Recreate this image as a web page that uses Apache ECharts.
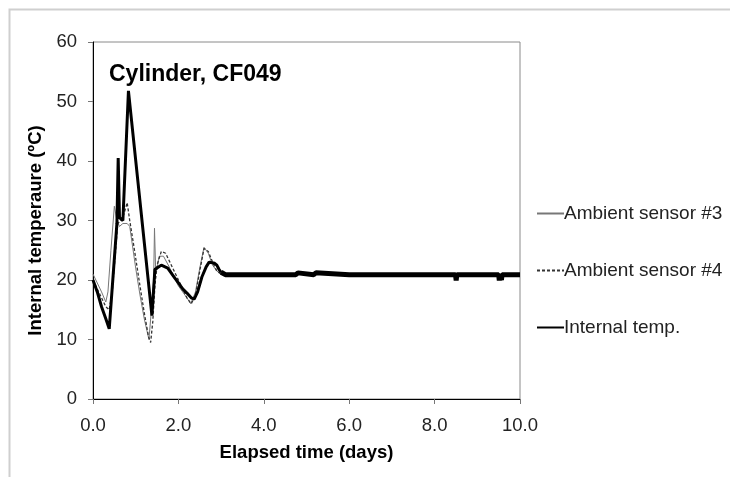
<!DOCTYPE html>
<html>
<head>
<meta charset="utf-8">
<script src="https://cdn.jsdelivr.net/npm/echarts@6/dist/echarts.min.js"></script>
<style>html,body{margin:0;padding:0;background:#fff}#c{width:730px;height:477px}</style>
</head>
<body>
<div id="c"></div>
<script>
// ---- data (days, °C) ----
var amb3Days = [0, 0.1, 0.2, 0.3, 0.35, 0.42, 0.5, 0.56, 0.62, 0.7, 0.8, 0.86, 1.0, 1.1, 1.2, 1.31, 1.38, 1.42, 1.44, 1.47, 1.5, 1.55, 1.65, 1.8, 2.0, 2.2, 2.29, 2.4, 2.5, 2.6, 2.7, 2.8, 2.9, 3.0, 3.1];
var amb3Temp = [21, 19.5, 18, 16.3, 18, 25, 32.4, 30, 29, 29.5, 29.5, 29, 22, 17.5, 13.5, 10, 16, 20, 28.7, 21, 22, 24, 24, 22, 19, 17, 16, 18, 22, 25.5, 24.5, 22.5, 21.5, 21, 21];

var amb4Days = [0, 0.1, 0.2, 0.3, 0.38, 0.45, 0.52, 0.58, 0.65, 0.72, 0.8, 0.86, 0.95, 1.1, 1.2, 1.3, 1.35, 1.4, 1.45, 1.5, 1.6, 1.7, 1.8, 2.0, 2.2, 2.3, 2.4, 2.5, 2.6, 2.7, 2.8, 2.9, 3.0, 3.1];
var amb4Temp = [20, 18.5, 17, 15.5, 15, 18, 24, 29.5, 30, 31, 33, 30, 26, 19, 14.5, 10.5, 9.5, 13, 19, 22.5, 24.8, 24.5, 23, 20, 17, 16, 17.5, 21.5, 25.3, 24.8, 23, 21.5, 21, 21];

var intDays = [0, 0.1, 0.2, 0.3, 0.38, 0.56, 0.59, 0.62, 0.7, 0.83, 1.38, 1.45, 1.5, 1.6, 1.75, 1.9, 2.0, 2.1, 2.2, 2.3, 2.37, 2.45, 2.55, 2.65, 2.72, 2.85, 2.9, 2.95, 3.0];
var intTemp = [20, 18, 15.5, 13.5, 11.8, 29.5, 40.5, 30.5, 30, 51.8, 14, 21.8, 22, 22.5, 22, 20.5, 19.5, 18.5, 17.8, 17, 16.8, 18, 20.5, 22.2, 23, 22.8, 22.5, 21.8, 21.3];

var intLateDays = [3.0, 3.1, 3.5, 4.0, 4.5, 4.75, 4.75, 4.8, 4.8, 5.17, 5.17, 5.22, 5.22, 6.0, 7.0, 8.0, 8.49, 8.505, 8.52, 9.0, 9.5, 9.515, 9.53, 9.55, 9.565, 9.58, 10.0];
var intLateTemp = [21.3, 20.9, 20.9, 20.9, 20.9, 20.9, 21.2, 21.2, 20.9, 20.9, 21.2, 21.2, 20.9, 20.9, 20.9, 20.9, 20.9, 19.9, 20.9, 20.9, 20.9, 19.9, 20.9, 20.9, 20.0, 20.9, 20.9];

var xTicks = [0, 2, 4, 6, 8, 10];
var yTicks = [0, 10, 20, 30, 40, 50, 60];
var seriesNames = ['Ambient sensor #3', 'Ambient sensor #4', 'Internal temp.'];
var chartTitle = 'Cylinder, CF049';
var xName = 'Elapsed time (days)';
var yName = 'Internal temperaure (ºC)';

function pairs(a, b) { return a.map(function (d, i) { return [d, b[i]]; }); }

var FONT = '"Liberation Sans", Arial, sans-serif';
var chart = echarts.init(document.getElementById('c'), null, { renderer: 'canvas' });
chart.setOption({
  animation: false,
  backgroundColor: '#fff',
  textStyle: { fontFamily: FONT },
  title: {
    text: chartTitle, left: 104, top: 58,
    textStyle: { fontFamily: FONT, fontSize: 23, fontWeight: 'bold', color: '#000' }
  },
  legend: {
    orient: 'vertical', left: 531, top: 199,
    itemWidth: 27, itemHeight: 14, itemGap: 38,
    data: seriesNames,
    itemStyle: { opacity: 0 },
    textStyle: { fontFamily: FONT, fontSize: 19, color: '#222', padding: [0, 0, 0, -5] }
  },
  grid: {
    left: 93, top: 42, width: 427, height: 357,
    show: true, borderColor: '#8a8a8a', borderWidth: 1, backgroundColor: 'transparent'
  },
  xAxis: {
    type: 'value', min: xTicks[0], max: xTicks[xTicks.length - 1], interval: 2,
    name: xName, nameLocation: 'middle', nameGap: 44,
    nameTextStyle: { fontFamily: FONT, fontSize: 18.5, fontWeight: 'bold', color: '#000' },
    axisLine: { lineStyle: { color: '#000', width: 1 } },
    axisTick: { show: true, length: 5, lineStyle: { color: '#777' } },
    axisLabel: { margin: 17, fontSize: 18.5, color: '#222', fontFamily: FONT,
      formatter: function (v) { return v.toFixed(1); } },
    splitLine: { show: false }
  },
  yAxis: {
    type: 'value', min: yTicks[0], max: yTicks[yTicks.length - 1], interval: 10,
    name: yName, nameLocation: 'middle', nameGap: 46,
    nameTextStyle: { fontFamily: FONT, fontSize: 18.5, fontWeight: 'bold', color: '#000', padding: [0, 20, 0, 0] },
    axisLine: { show: true, lineStyle: { color: '#000', width: 1 } },
    axisTick: { show: true, length: 5, lineStyle: { color: '#777' } },
    axisLabel: { margin: 16, fontSize: 18.5, color: '#222', fontFamily: FONT },
    splitLine: { show: false }
  },
  graphic: [{
    type: 'polyline', silent: true,
    shape: { points: [[9.5, 477], [9.5, 9.5], [730, 9.5]] },
    style: { stroke: '#cfcfcf', lineWidth: 2, fill: null }
  }],
  series: [
    { name: seriesNames[0], type: 'line', symbol: 'none', showSymbol: false, data: pairs(amb3Days, amb3Temp),
      lineStyle: { color: '#777', width: 1 }, itemStyle: { color: '#777' } },
    { name: seriesNames[1], type: 'line', symbol: 'none', showSymbol: false, data: pairs(amb4Days, amb4Temp),
      lineStyle: { color: '#333', width: 1.3, type: [3, 2] }, itemStyle: { color: '#333' } },
    { name: seriesNames[2], type: 'line', symbol: 'none', showSymbol: false, data: pairs(intDays, intTemp),
      lineStyle: { color: '#000', width: 3, join: 'bevel' }, itemStyle: { color: '#000' } },
    { name: seriesNames[2], type: 'line', symbol: 'none', showSymbol: false, data: pairs(intLateDays, intLateTemp),
      lineStyle: { color: '#000', width: 5, join: 'bevel' }, itemStyle: { color: '#000' } }
  ]
});
</script>
</body>
</html>
